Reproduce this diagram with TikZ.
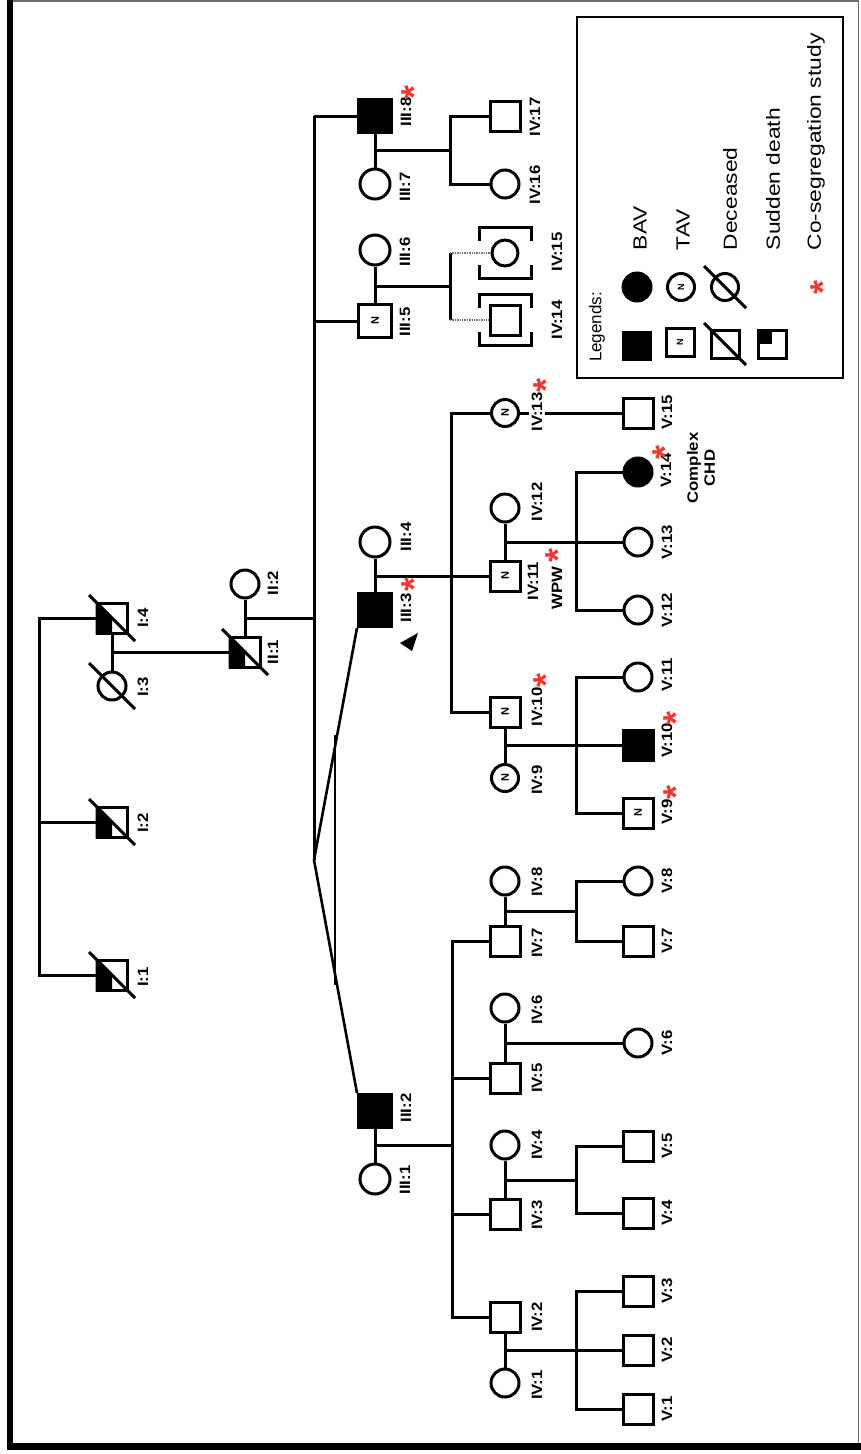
\documentclass[tikz,border=0pt]{standalone}
\usepackage{fontspec}
\usepackage{graphicx}
\setmainfont{Liberation Sans}
\usetikzlibrary{calc}
\definecolor{StarRed}{HTML}{F2362F}
\definecolor{FrameGray}{HTML}{6E6E6E}
\newcommand{\symN}[1][11]{\rotatebox{90}{\bfseries\fontsize{#1}{#1}\selectfont N}}
\newcommand{\redast}{\raisebox{-0.57em}[0pt][0pt]{*}}
\newcommand{\deceased}[2][23pt]{\draw[slash] ($(#2.center)+(-#1,#1)$) -- ($(#2.center)+(#1,-#1)$);}
\newcommand{\suddenfill}[1]{\fill (#1.north west) -- (#1.center) -- (#1.south) -- (#1.south west) -- cycle;}
\newcommand{\adopted}[1]{%
    \draw ($(#1)+(-26pt,12pt)$) -- ($(#1)+(-26pt,25.5pt)$) -- ($(#1)+(26pt,25.5pt)$) -- ($(#1)+(26pt,12pt)$);
    \draw ($(#1)+(-26pt,-12pt)$) -- ($(#1)+(-26pt,-25.5pt)$) -- ($(#1)+(26pt,-25.5pt)$) -- ($(#1)+(26pt,-12pt)$);}
\tikzset{
    male/.style={draw, rectangle, fill=white, minimum size=#1, inner sep=0pt},
    male/.default=30pt,
    female/.style={draw, circle, fill=white, minimum size=#1, inner sep=0pt},
    female/.default=28pt,
    bav/.style={fill=black},
    lbl/.style={rotate=90, xscale=1.12, inner sep=0pt, font=\bfseries\fontsize{15}{17}\selectfont},
    ast/.style={rotate=90, inner sep=0pt, text=StarRed, font=\bfseries\fontsize{36}{36}\selectfont},
    slash/.style={line width=3pt},
    twinline/.style={line width=2.6pt},
    adoptline/.style={densely dotted, line width=1.4pt, black!55},
    keytext/.style={rotate=90, xscale=1.2, anchor=west, inner sep=0pt, font=\fontsize{19}{19}\selectfont},
}

\begin{document}
\begin{tikzpicture}[x=1pt, y=-1pt, line width=3pt]
    \useasboundingbox (0,0) rectangle (861,1454);

    % Frame
    \draw[FrameGray, line width=1.5pt] (10,0.8) -- (858.5,0.8) -- (858.5,1446);
    \draw[line width=6.5pt] (10,0) -- (10,1446.5) -- (861,1446.5);

    % Generation I
    \node[male] (I4) at (112,618) {};
    \node[female] (I3) at (112,686) {};
    \node[male] (I2) at (112,822) {};
    \node[male] (I1) at (112,975) {};

    % Generation II
    \node[male] (II1) at (245,652) {};
    \node[female] (II2) at (245,584) {};
    \foreach \p in {I4,I2,I1,II1} {\suddenfill{\p}}
    \foreach \p in {I4,I3,I2,I1,II1} {\deceased{\p}}

    % Generation III
    \node[male=33pt, bav] (III8) at (375,116) {};
    \node[female=30pt] (III7) at (375,184) {};
    \node[male=33pt] (III5) at (375,321) {\symN};
    \node[female=30pt] (III6) at (375,250) {};
    \node[female=30pt] (III4) at (375,542) {};
    \node[male=33pt, bav] (III3) at (375,610) {};
    \node[male=33pt, bav] (III2) at (375,1111) {};
    \node[female=30pt] (III1) at (375,1179) {};
    \fill (400,643) -- (418,633) -- (412,651) -- cycle;

    % Generation IV
    \node[male] (IV17) at (505,116) {};
    \node[female] (IV16) at (505,184) {};
    \node[female=26pt] (IV15) at (505,253) {};
    \node[male] (IV14) at (505,320) {};
    \adopted{IV15}
    \adopted{IV14}
    \node[female=27pt] (IV13) at (505,413) {\symN};
    \node[female] (IV12) at (505,508) {};
    \node[male] (IV11) at (505,576) {\symN};
    \node[male] (IV10) at (505,712) {\symN};
    \node[female=27pt] (IV9) at (505,778) {\symN};
    \node[female] (IV8) at (505,881) {};
    \node[male] (IV7) at (505,941) {};
    \node[female] (IV6) at (505,1008) {};
    \node[male] (IV5) at (505,1078) {};
    \node[female] (IV4) at (505,1145) {};
    \node[male] (IV3) at (505,1214) {};
    \node[male] (IV2) at (505,1317) {};
    \node[female] (IV1) at (505,1383) {};

    % Generation V
    \node[male] (V15) at (638,413) {};
    \node[female, bav] (V14) at (638,472) {};
    \node[female] (V13) at (638,542) {};
    \node[female] (V12) at (638,610) {};
    \node[female] (V11) at (638,677) {};
    \node[male, bav] (V10) at (638,745) {};
    \node[male] (V9) at (638,813) {\symN};
    \node[female] (V8) at (638,881) {};
    \node[male] (V7) at (638,941) {};
    \node[female] (V6) at (638,1043) {};
    \node[male] (V5) at (638,1146) {};
    \node[male] (V4) at (638,1213) {};
    \node[male] (V3) at (638,1291) {};
    \node[male] (V2) at (638,1350) {};
    \node[male] (V1) at (638,1409) {};

    % Lines of descent, generations I-III
    \coordinate (jI) at (39,618);
    \draw (I4) -- (jI) |- (I1);
    \draw (I2) -- (I2 -| jI);
    \draw (I4) -- (I3);
    \coordinate (mI4) at ($(I4)!0.5!(I3)$);
    \draw (mI4) -- (II1);
    \draw (II1) -- (II2);
    \coordinate (mII1) at ($(II1)!0.5!(II2)$);
    \coordinate (jIII) at (314,116);
    \coordinate (twin) at (314,860);
    \draw (jIII) -- (twin);
    \draw (mII1) -- (mII1 -| jIII);
    \draw (jIII) -- (III8);
    \draw (III5) -- (III5 -| jIII);
    \draw[twinline] (twin) -- (III3.south west);
    \draw[twinline] (twin) -- (III2.north west);
    \coordinate (tbarA) at (335,735);
    \coordinate (tbarB) at (335,985);
    \draw[twinline] (tbarA) -- (tbarB);

    % Lines of descent, generations III-IV
    \draw (III8) -- (III7);
    \coordinate (mIII8) at ($(III8)!0.5!(III7)$);
    \coordinate (jIII8) at (450,150);
    \draw (mIII8) -- (jIII8);
    \draw (IV17) -| (jIII8) |- (IV16);

    \draw (III5) -- (III6);
    \coordinate (mIII5) at (375,286);
    \coordinate (jIV15) at (450,253);
    \coordinate (jIV14) at (450,320);
    \draw (mIII5) -- (mIII5 -| jIV15);
    \draw (jIV15) -- (jIV14);
    \draw[adoptline] (jIV15) -- (IV15);
    \draw[adoptline] (jIV14) -- (IV14);

    \draw (III3) -- (III4);
    \coordinate (mIII3) at ($(III3)!0.5!(III4)$);
    \coordinate (jIII3) at (451,576);
    \draw (mIII3) -- (IV11);
    \draw (IV13) -| (jIII3) |- (IV10);

    \draw (III2) -- (III1);
    \coordinate (mIII2) at ($(III2)!0.5!(III1)$);
    \coordinate (jIII2) at (452,1145);
    \draw (mIII2) -- (jIII2);
    \draw (IV7) -| (jIII2) |- (IV2);
    \draw (IV5) -- (IV5 -| jIII2);
    \draw (IV3) -- (IV3 -| jIII2);

    % Lines of descent, generations IV-V
    \draw (IV13) -- (V15);
    \draw (IV11) -- (IV12);
    \coordinate (mIV11) at ($(IV11)!0.5!(IV12)$);
    \coordinate (jIV11) at (576,542);
    \draw (mIV11) -- (V13);
    \draw (V14) -| (jIV11) |- (V12);
    \draw (IV10) -- (IV9);
    \coordinate (mIV10) at ($(IV10)!0.5!(IV9)$);
    \coordinate (jIV10) at (576,745);
    \draw (mIV10) -- (V10);
    \draw (V11) -| (jIV10) |- (V9);
    \draw (IV7) -- (IV8);
    \coordinate (mIV7) at ($(IV7)!0.5!(IV8)$);
    \coordinate (jIV7) at (576,911);
    \draw (mIV7) -- (jIV7);
    \draw (V8) -| (jIV7) |- (V7);
    \draw (IV5) -- (IV6);
    \coordinate (mIV5) at ($(IV5)!0.5!(IV6)$);
    \draw (mIV5) -- (V6);
    \draw (IV3) -- (IV4);
    \coordinate (mIV3) at (505,1180);
    \coordinate (jIV3) at (576,1180);
    \draw (mIV3) -- (jIV3);
    \draw (V5) -| (jIV3) |- (V4);
    \draw (IV2) -- (IV1);
    \coordinate (mIV2) at ($(IV2)!0.5!(IV1)$);
    \coordinate (jIV2) at (576,1350);
    \draw (mIV2) -- (V2);
    \draw (V3) -| (jIV2) |- (V1);

    % Labels
    \foreach \n/\px/\py/\t in {I4/143/618/I:4, I3/143/687/I:3, I2/143/823/I:2, I1/143/977/I:1,
        II2/273/583/II:2, II1/273/652/II:1,
        III8/406/112/III:8, III7/405/187/III:7, III6/405/252/III:6, III5/405/322/III:5,
        III4/406/537/III:4, III3/406/608/III:3, III2/406/1108/III:2, III1/405/1180/III:1,
        IV17/535/117/IV:17, IV16/535/185/IV:16, IV15/557/252/IV:15, IV14/557/320/IV:14,
        IV12/537/502/IV:12, IV11/533/581/IV:11, IV10/537/707/IV:10, IV9/537/780/IV:9,
        IV8/537/882/IV:8, IV7/537/943/IV:7, IV6/537/1010/IV:6, IV5/537/1078/IV:5,
        IV4/537/1145/IV:4, IV3/537/1215/IV:3, IV2/537/1317/IV:2, IV1/537/1385/IV:1,
        V15/667/412/V:15, V14/666/470/V:14, V13/667/542/V:13, V12/667/610/V:12,
        V11/667/675/V:11, V10/667/740/V:10, V9/667/812/V:9, V8/667/881/V:8,
        V7/667/941/V:7, V6/667/1043/V:6, V5/667/1146/V:5, V4/667/1213/V:4,
        V3/667/1291/V:3, V2/667/1350/V:2, V1/667/1409/V:1}
        {\node[lbl] (l\n) at (\px,\py) {\t};}
    \node[lbl, fill=white, inner sep=2.5pt] (lIV13) at (537,412) {IV:13};
    \node[lbl] (lWPW) at (557,588) {WPW};
    \node[lbl, align=center] (lCHD) at (701,468) {Complex\\CHD};

    % Co-segregation marks
    \foreach \n/\px/\py in {III8/406/92, III3/406/584, IV13/538/385, IV11/550/555,
        IV10/538/680, V14/657/452, V10/668/718, V9/668/792}
        {\node[ast] (a\n) at (\px,\py) {\redast};}

    % Legend
    \node[draw, line width=2.6pt, minimum width=266pt, minimum height=361pt] (legendbox) at (710,197.5) {};
    \node[rotate=90, inner sep=0pt, font=\fontsize{17}{17}\selectfont] (kTitle) at (597,327) {Legends:};
    \node[male=27pt, bav] (kBAVm) at (637,346) {};
    \node[female=28pt, bav] (kBAVf) at (637,287) {};
    \node[male=28pt] (kTAVm) at (680,342) {\symN[9]};
    \node[female=27pt] (kTAVf) at (681,287) {\symN[9]};
    \node[male=28pt] (kDECm) at (725,344) {};
    \node[female=27pt] (kDECf) at (725,287) {};
    \deceased[21pt]{kDECm}
    \deceased[21pt]{kDECf}
    \node[male=28pt] (kSDm) at (772,344) {};
    \fill (kSDm.north west) rectangle (kSDm.center);
    \node[ast] (kAST) at (815,287) {\redast};
    \node[keytext] (kBAVt) at (640,252) {BAV};
    \node[keytext] (kTAVt) at (683,252) {TAV};
    \node[keytext] (kDECt) at (730,252) {Deceased};
    \node[keytext] (kSDt) at (773,252) {Sudden death};
    \node[keytext] (kASTt) at (816,252) {Co-segregation study};
\end{tikzpicture}
\end{document}
